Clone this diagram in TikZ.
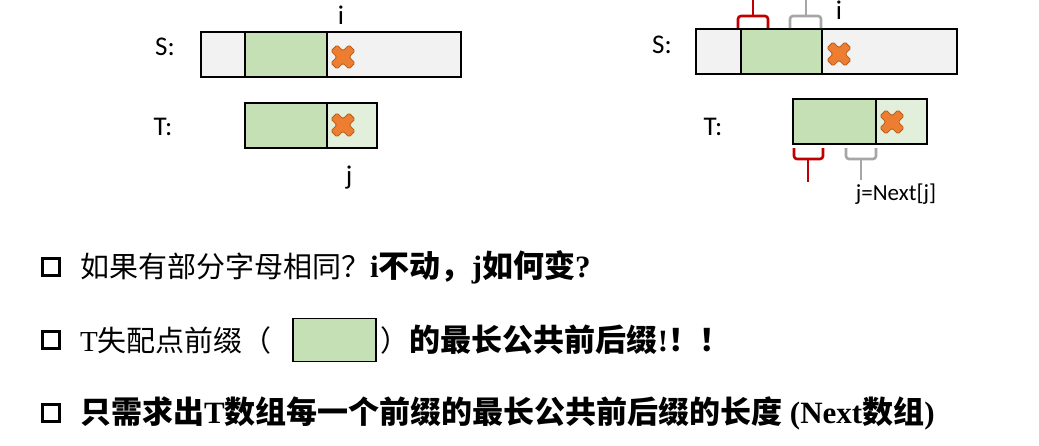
\documentclass[tikz,border=0pt]{standalone}
\usepackage{fontspec}
\usepackage{tikz}
\usetikzlibrary{positioning}
\newfontfamily\lblfont{Carlito}
\newfontfamily\cjk{Noto Sans CJK SC}
\newfontfamily\latin{Liberation Serif}

\definecolor{cellgray}{HTML}{F2F2F2}
\definecolor{cellgreen}{HTML}{C5E0B4}
\definecolor{celllight}{HTML}{E2EFDA}
\definecolor{crossfill}{HTML}{ED7D31}
\definecolor{crossedge}{HTML}{B55A17}
\definecolor{bracered}{HTML}{C00000}
\definecolor{bracegray}{HTML}{A6A6A6}

% bold part of a line is set a little larger, as in the slide
\newcommand{\keypart}{\bfseries\fontsize{31}{33}\selectfont}

\tikzset{
  cell/.style={draw=black, line width=1.6pt},
  lbl/.style={font=\lblfont\fontsize{27}{29}\selectfont, inner sep=0pt},
  line/.style={font=\cjk\fontsize{29}{31}\selectfont, inner sep=0pt, anchor=west},
  bullet/.style={draw=black, line width=3.8pt, minimum size=17pt, inner sep=0pt},
  redbrace/.style={draw=bracered, line width=2.6pt, rounded corners=3pt},
  graybrace/.style={draw=bracegray, line width=2.6pt, rounded corners=3pt},
  mismatch/.pic={
    \draw[draw=crossedge, fill=crossfill, line width=0.8pt, rounded corners=1.5pt, rotate=45]
      (-4.3,12.7) -- (4.3,12.7) -- (4.3,4.3) -- (12.7,4.3) -- (12.7,-4.3) -- (4.3,-4.3)
      -- (4.3,-12.7) -- (-4.3,-12.7) -- (-4.3,-4.3) -- (-12.7,-4.3) -- (-12.7,4.3) -- (-4.3,4.3) -- cycle;
  }
}

\begin{document}
\begin{tikzpicture}[x=1pt,y=-1pt]
\useasboundingbox (0,0) rectangle (1039,445);

% left: first mismatch
\draw[cell, fill=cellgray] (201,32) rectangle (461,77);
\draw[cell, fill=cellgreen] (245,32) rectangle (327,77);
\draw[cell, fill=cellgreen] (245,103) rectangle (327,148);
\draw[cell, fill=celllight] (327,103) rectangle (377,148);
\pic at (343,57) {mismatch};
\pic at (343,125) {mismatch};

\node[lbl] (sl) at (165,47) {S:};
\node[lbl] (tl) at (163,127) {T:};
\node[lbl] (il) at (341,15) {i};
\node[lbl] (jl) at (349,178) {j};

% right: shift T by next
\draw[cell, fill=cellgray] (696,29) rectangle (957,74);
\draw[cell, fill=cellgreen] (741,29) rectangle (822,74);
\draw[cell, fill=cellgreen] (793,99) rectangle (876,144);
\draw[cell, fill=celllight] (876,99) rectangle (927,144);
\pic at (839,54) {mismatch};
\pic at (892,122) {mismatch};

\node[lbl] (sr) at (662,45) {S:};
\node[lbl] (tr) at (713,127) {T:};
\node[lbl] (ir) at (839,10) {i};
\node[lbl, font=\lblfont\fontsize{23}{25}\selectfont] (jr) at (896,194) {j=Next[j]};

\draw[redbrace] (738,28) -- (738,16) -- (768,16) -- (768,28);
\draw[redbrace] (753,16) -- (753,-2);
\draw[graybrace] (790,28) -- (790,16) -- (821,16) -- (821,28);
\draw[graybrace] (806,16) -- (806,-2);

\draw[redbrace] (794,148) -- (794,159) -- (823,159) -- (823,148);
\draw[redbrace] (808,159) -- (808,182);
\draw[graybrace] (846,148) -- (846,159) -- (876,159) -- (876,148);
\draw[graybrace] (861,159) -- (861,180);

% bullet lines
\node[bullet] (b1) at (51,267) {};
\node[line] (q1) at (80,267) {如果有部分字母相同？{\keypart{\latin i}不动，{\latin j}如何变{\latin ?}}};

\node[bullet] (b2) at (51,340) {};
\node[line] (q2a) at (80,340) {{\latin T}失配点前缀（};
\node[cell, fill=cellgreen, minimum width=83pt, minimum height=43pt, inner sep=0pt, right=20pt of q2a] (q2box) {};
\node[line, right=4pt of q2box] (q2b) {）{\keypart 的最长公共前后缀{\latin !}！！}};

\node[bullet] (b3) at (51,413) {};
\node[line] (q3) at (80,413) {\keypart 只需求出{\latin T}数组每一个前缀的最长公共前后缀的长度 {\latin (Next}数组{\latin )}};

\end{tikzpicture}
\end{document}
